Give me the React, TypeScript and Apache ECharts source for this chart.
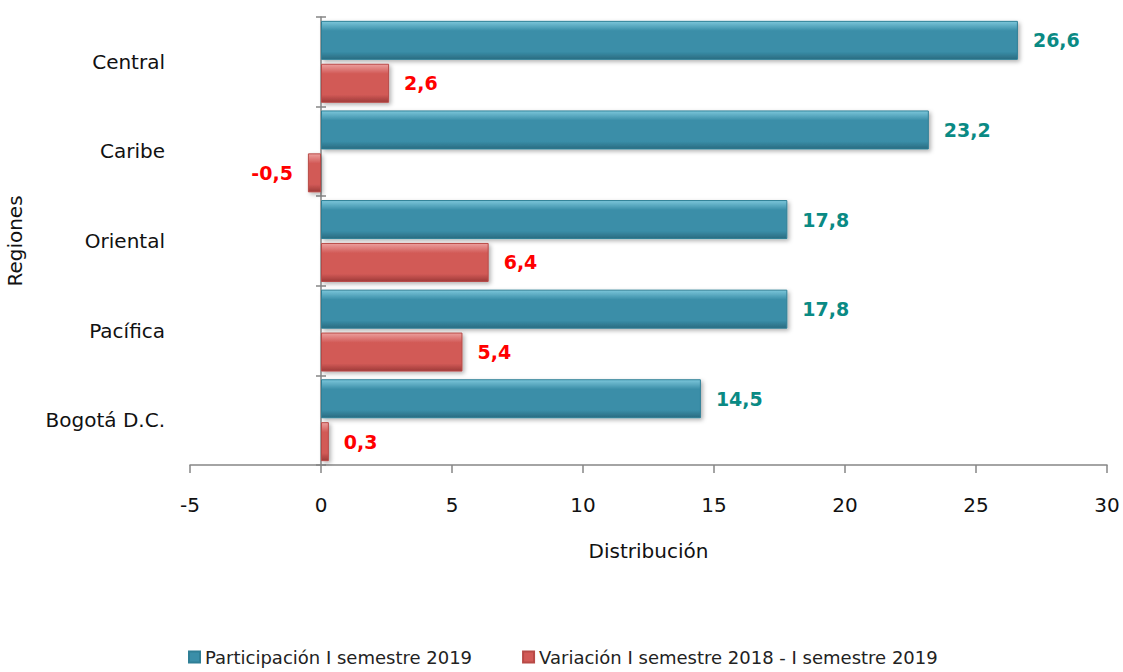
import React, { useEffect, useRef } from "react";
import * as echarts from "echarts";

const categories = ["Central", "Caribe", "Oriental", "Pacífica", "Bogotá D.C."];
const participacion = [26.6, 23.2, 17.8, 17.8, 14.5];
const variacion = [2.6, -0.5, 6.4, 5.4, 0.3];
const seriesNames = ["Participación I semestre 2019", "Variación I semestre 2018 - I semestre 2019"];

const FONT = "'DejaVu Sans', 'Noto Sans', sans-serif";
const fmt = (v: number) => v.toFixed(1).replace(".", ",");

const grad = (top: string, mid: string, bot: string) =>
  new echarts.graphic.LinearGradient(0, 0, 0, 1, [
    { offset: 0, color: top },
    { offset: 0.25, color: mid },
    { offset: 0.8, color: mid },
    { offset: 1, color: bot },
  ]);

export default function App() {
  const ref = useRef<HTMLDivElement>(null);
  useEffect(() => {
    if (!ref.current) return;
    const chart = echarts.init(ref.current, null, { renderer: "svg" });
    const blue = grad("#7cc6da", "#3a8ea8", "#2a6b80");
    const red = grad("#eca09e", "#d25a57", "#9e3b39");
    chart.setOption({
      animation: false,
      backgroundColor: "#ffffff",
      grid: { left: 190, right: 16, top: 17, bottom: 207, containLabel: false, outerBoundsMode: "none" },
      legend: {
        bottom: 1,
        left: 183,
        itemGap: 50,
        itemWidth: 11,
        itemHeight: 11,
        icon: "rect",
        textStyle: { fontFamily: FONT, fontSize: 18, color: "#222" },
        data: [
          { name: seriesNames[0], itemStyle: { color: "#3a8ea8" } },
          { name: seriesNames[1], itemStyle: { color: "#d25a57" } },
        ],
      },
      xAxis: {
        type: "value",
        min: -5,
        max: 30,
        interval: 5,
        splitLine: { show: false },
        axisLine: { show: true, onZero: false, lineStyle: { color: "#868686", width: 1.5 } },
        axisTick: { show: true, length: 8, lineStyle: { color: "#868686", width: 1.5 } },
        axisLabel: { fontFamily: FONT, fontSize: 20, color: "#111", margin: 30 },
        name: "Distribución",
        nameLocation: "middle",
        nameGap: 76,
        nameTextStyle: { fontFamily: FONT, fontSize: 20, color: "#111" },
      },
      yAxis: [
        {
          type: "category",
          data: categories,
          inverse: true,
          axisLine: { show: false, onZero: false },
          axisTick: { show: false },
          axisLabel: { fontFamily: FONT, fontSize: 20, color: "#111", margin: 25 },
          name: "Regiones",
          nameLocation: "middle",
          nameGap: 165,
          nameRotate: 90,
          nameTextStyle: { fontFamily: FONT, fontSize: 20, color: "#111" },
        },
        {
          type: "category",
          data: categories,
          inverse: true,
          position: "left",
          axisLine: { show: true, onZero: true, onZeroAxisIndex: 0, lineStyle: { color: "#868686", width: 1.5 } },
          axisTick: { show: true, inside: false, length: 5, lineStyle: { color: "#868686", width: 1.5 } },
          axisLabel: { show: false },
        },
        {
          type: "category",
          data: categories,
          inverse: true,
          position: "left",
          axisLine: { show: false, onZero: true, onZeroAxisIndex: 0 },
          axisTick: { show: true, inside: true, length: 5, lineStyle: { color: "#868686", width: 1.5 } },
          axisLabel: { show: false },
        },
      ],
      series: [
        {
          name: seriesNames[0],
          type: "bar",
          data: participacion,
          barWidth: 39,
          barGap: "10%",
          itemStyle: {
            color: blue,
            borderColor: "#2f7f96",
            borderWidth: 1,
            shadowColor: "rgba(0,0,0,0.3)",
            shadowBlur: 4,
            shadowOffsetX: 2,
            shadowOffsetY: 2,
          },
          label: {
            show: true,
            position: "right",
            distance: 15,
            formatter: (p: any) => fmt(p.value),
            fontFamily: FONT,
            fontSize: 19,
            fontWeight: "bold",
            color: "#0a8a84",
          },
        },
        {
          name: seriesNames[1],
          type: "bar",
          data: variacion.map((v) => ({
            value: v,
            label: { position: v < 0 ? "left" : "right" },
          })),
          barWidth: 39,
          itemStyle: {
            color: red,
            borderColor: "#b84a47",
            borderWidth: 1,
            shadowColor: "rgba(0,0,0,0.3)",
            shadowBlur: 4,
            shadowOffsetX: 2,
            shadowOffsetY: 2,
          },
          label: {
            show: true,
            distance: 15,
            formatter: (p: any) => fmt(p.value),
            fontFamily: FONT,
            fontSize: 19,
            fontWeight: "bold",
            color: "#ff0000",
          },
        },
      ],
    });
    return () => chart.dispose();
  }, []);
  return <div ref={ref} style={{ width: 1123, height: 672, position: "absolute", left: 0, top: 0 }} />;
}
